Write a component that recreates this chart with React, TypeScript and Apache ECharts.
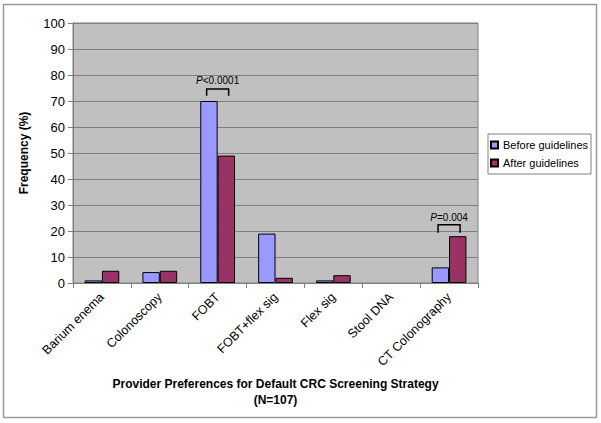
import React, { useEffect, useRef } from "react";
import * as echarts from "echarts";

const categories = ["Barium enema", "Colonoscopy", "FOBT", "FOBT+flex sig", "Flex sig", "Stool DNA", "CT Colonography"];
const beforeValues = [1, 4.2, 70, 19, 1, 0, 6];
const afterValues = [4.7, 4.7, 49, 2, 3, 0, 18];
const seriesNames = ["Before guidelines", "After guidelines"];
// annotation: [category index, bracket top, bracket leg end, text center]
const annotations = [
  [2, 74.6, 72.0, 77.7],
  [6, 22.4, 19.3, 25.1],
];
const annotationTexts = ["<0.0001", "=0.004"];

const FONT = "Arial, 'Liberation Sans', sans-serif";

const toBarData = (arr: number[]) =>
  arr.map((v) => (v === 0 ? { value: v, itemStyle: { borderWidth: 0 } } : v));

export default function App() {
  const ref = useRef<HTMLDivElement>(null);
  useEffect(() => {
    if (!ref.current) return;
    const chart = echarts.init(ref.current, null, { renderer: "svg" });
    chart.setOption({
      animation: false,
      backgroundColor: "#ffffff",
      textStyle: { fontFamily: FONT },
      graphic: [
        {
          type: "rect",
          shape: { x: 3.5, y: 4.5, width: 593, height: 413 },
          style: { fill: "none", stroke: "#9a9a9a", lineWidth: 1.5 },
          silent: true,
        },
      ],
      grid: { left: 73, right: 123, top: 23, bottom: 140, show: true, backgroundColor: "#c0c0c0", borderColor: "#808080", borderWidth: 1 },
      legend: {
        data: seriesNames,
        orient: "vertical",
        left: 488,
        top: 134,
        padding: [4, 3, 4, 2],
        itemGap: 4,
        itemWidth: 7,
        itemHeight: 7,
        icon: "rect",
        backgroundColor: "#ffffff",
        borderColor: "#808080",
        borderWidth: 1,
        borderRadius: 0,
        textStyle: { fontSize: 11, color: "#000", fontFamily: FONT, lineHeight: 14 },
      },
      xAxis: {
        type: "category",
        data: categories,
        axisLine: { lineStyle: { color: "#808080", width: 1 } },
        axisTick: { show: true, length: 5, lineStyle: { color: "#808080" } },
        axisLabel: { rotate: 45, fontSize: 12.5, color: "#000", margin: 12, fontFamily: FONT, interval: 0 },
        name: "Provider Preferences for Default CRC Screening Strategy\n(N=107)",
        nameLocation: "middle",
        nameGap: 89,
        nameTextStyle: { fontSize: 12, fontWeight: "bold", color: "#000", lineHeight: 16, fontFamily: FONT },
      },
      yAxis: {
        type: "value",
        min: 0,
        max: 100,
        interval: 10,
        axisLine: { show: true, lineStyle: { color: "#808080", width: 1 } },
        axisTick: { show: true, length: 5, lineStyle: { color: "#808080" } },
        axisLabel: { fontSize: 13, color: "#000", margin: 8, fontFamily: FONT },
        splitLine: { lineStyle: { color: "#7f7f7f", width: 1 } },
        name: "Frequency (%)",
        nameLocation: "middle",
        nameRotate: 90,
        nameGap: 43,
        nameTextStyle: { fontSize: 12, fontWeight: "bold", color: "#000", fontFamily: FONT },
      },
      series: [
        {
          name: seriesNames[0],
          type: "bar",
          data: toBarData(beforeValues),
          barGap: "0%",
          barCategoryGap: "40%",
          itemStyle: { color: "#9999ff", borderColor: "#000", borderWidth: 1 },
        },
        {
          name: seriesNames[1],
          type: "bar",
          data: toBarData(afterValues),
          barGap: "0%",
          barCategoryGap: "40%",
          itemStyle: { color: "#993366", borderColor: "#000", borderWidth: 1 },
        },
        {
          type: "custom",
          data: annotations,
          z: 10,
          renderItem: (params: any, api: any) => {
            const top = api.coord([api.value(0), api.value(1)]);
            const leg = api.coord([api.value(0), api.value(2)]);
            const txt = api.coord([api.value(0), api.value(3)]);
            const band = api.size([1, 0])[0];
            const half = band * 0.19;
            const cx = top[0];
            return {
              type: "group",
              children: [
                {
                  type: "polyline",
                  shape: {
                    points: [
                      [cx - half, leg[1]],
                      [cx - half, top[1]],
                      [cx + half, top[1]],
                      [cx + half, leg[1]],
                    ],
                  },
                  style: { stroke: "#000", fill: null, lineWidth: 1.5 },
                },
                {
                  type: "text",
                  x: cx,
                  y: txt[1],
                  style: {
                    text: "{i|P}{n|" + annotationTexts[params.dataIndex] + "}",
                    rich: {
                      i: { fontStyle: "italic", fontSize: 10, fontFamily: FONT, fill: "#000" },
                      n: { fontSize: 10, fontFamily: FONT, fill: "#000" },
                    },
                    align: "center",
                    verticalAlign: "middle",
                    fill: "#000",
                  },
                },
              ],
            };
          },
        },
      ],
    });
    return () => chart.dispose();
  }, []);
  return <div ref={ref} style={{ position: "fixed", left: 0, top: 0, width: 601, height: 423 }} />;
}
